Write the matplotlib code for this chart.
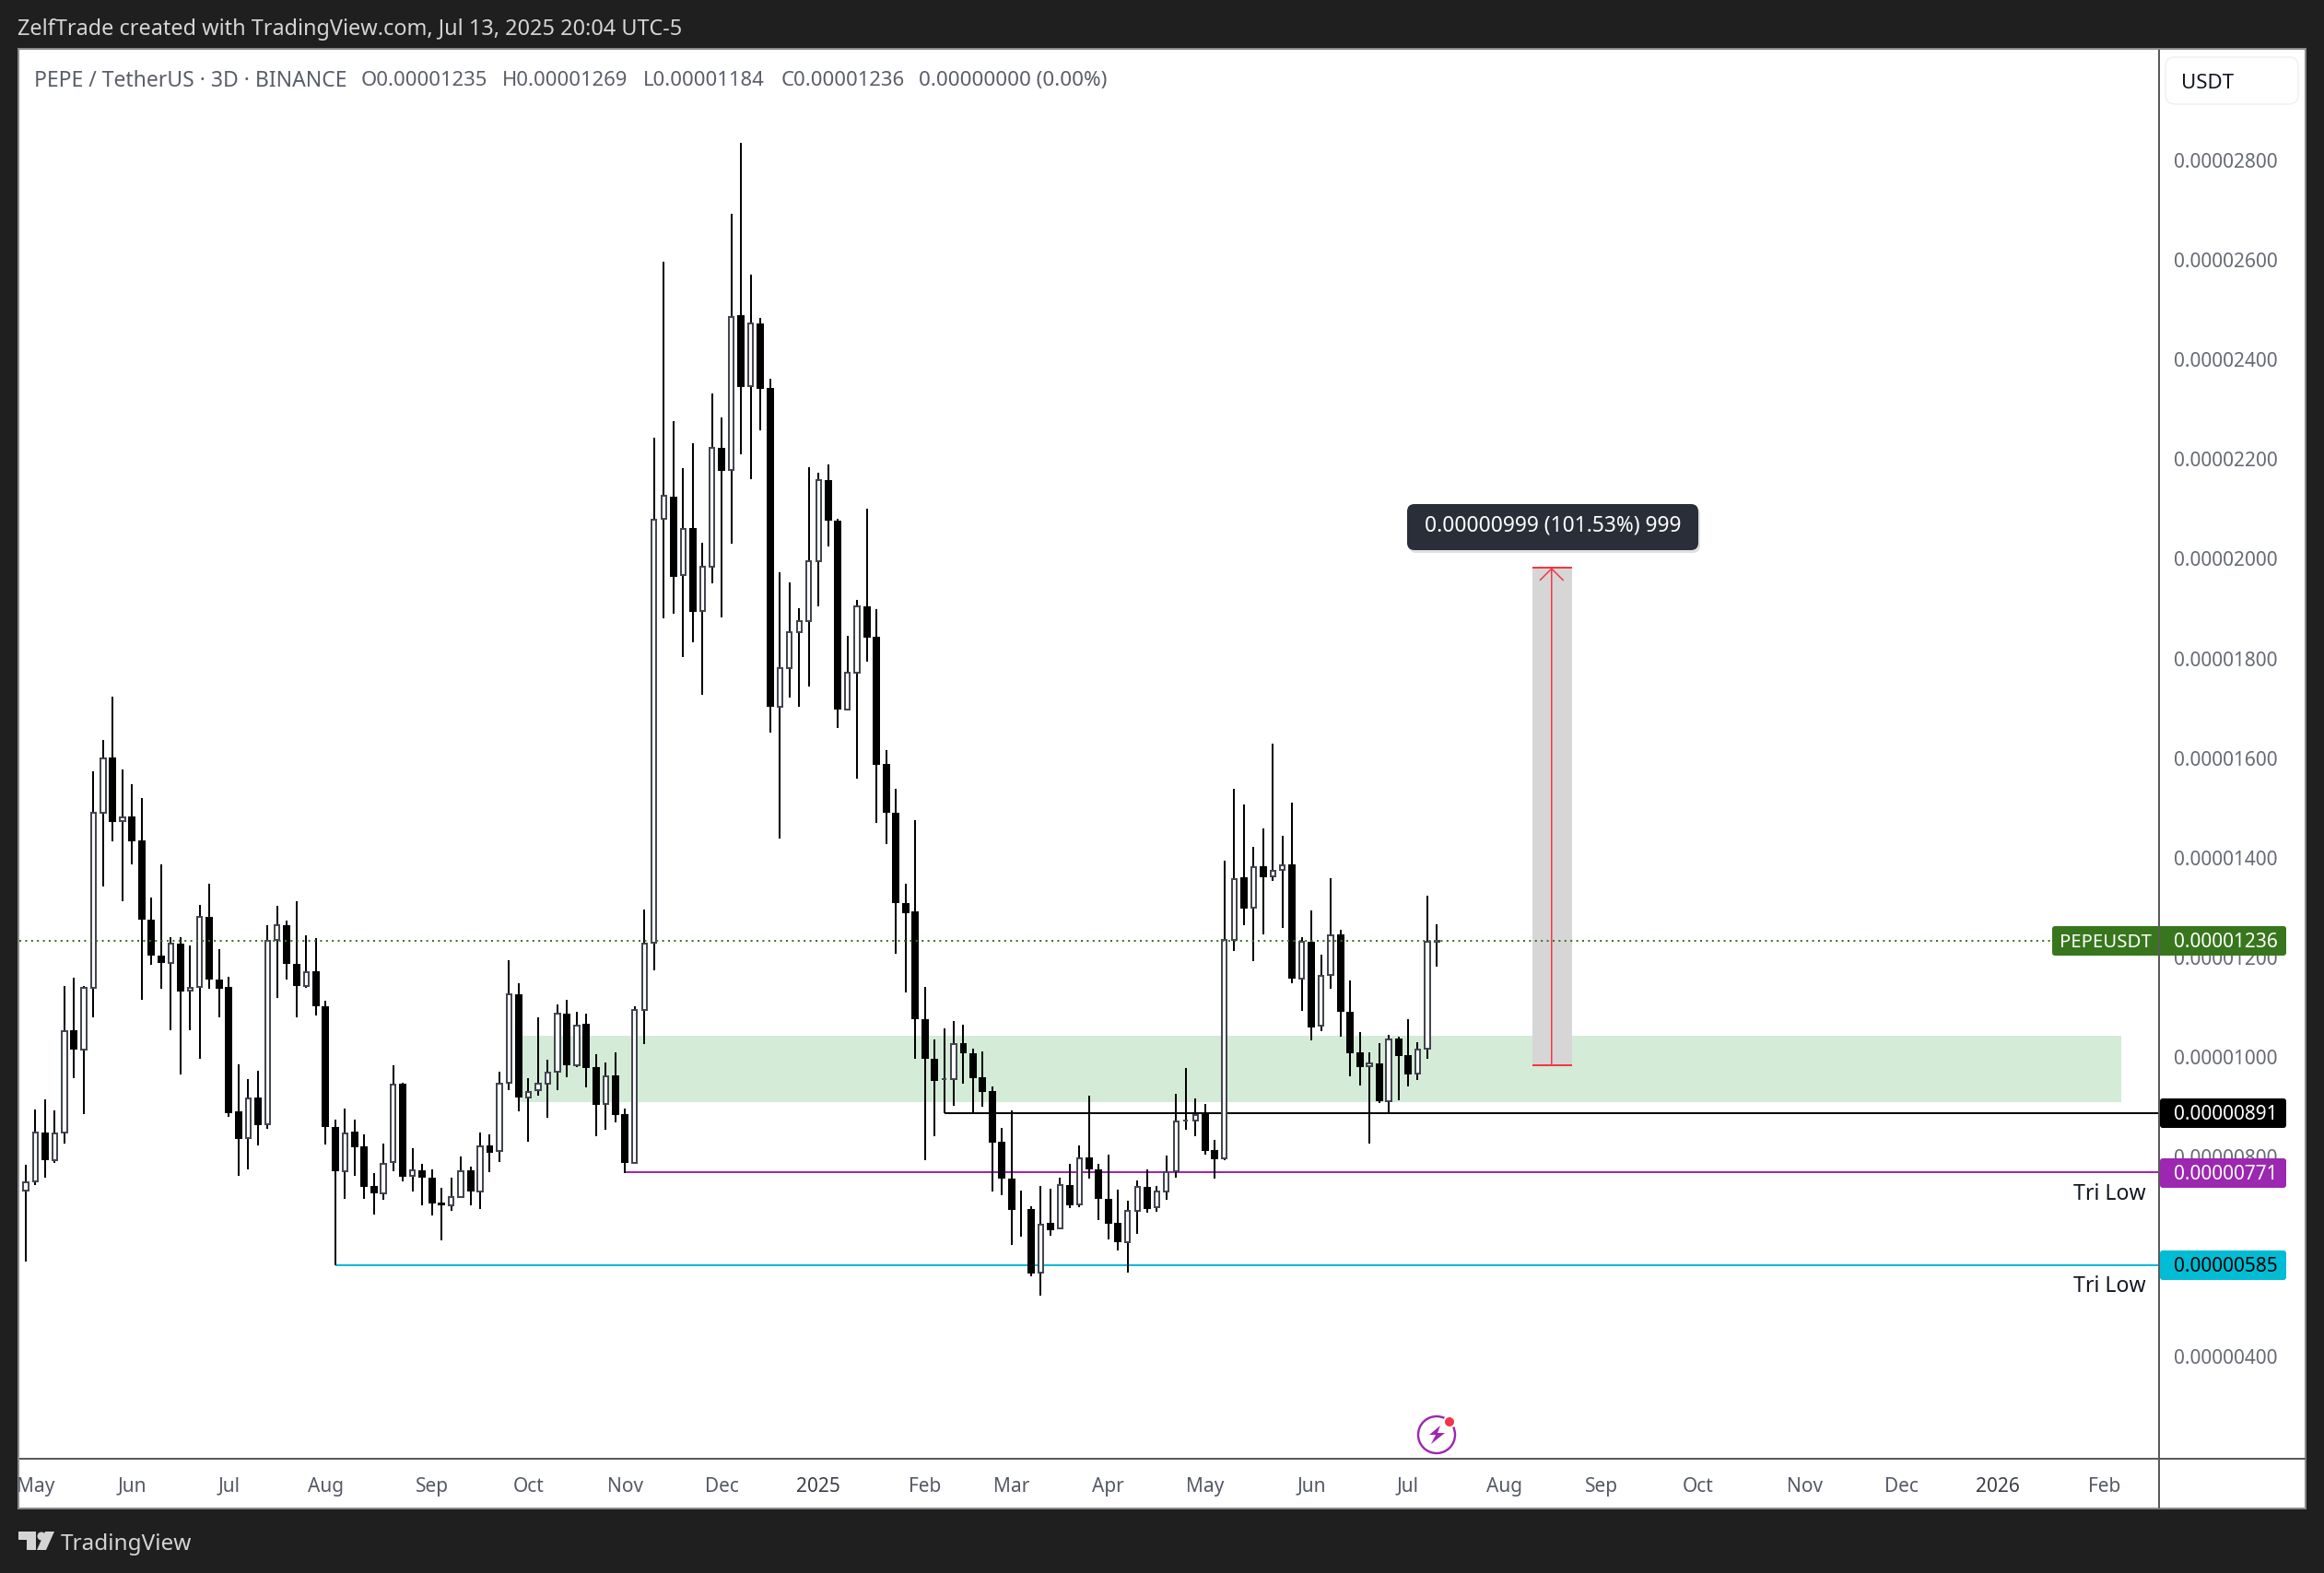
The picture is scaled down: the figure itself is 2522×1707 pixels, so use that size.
import matplotlib
matplotlib.use("Agg")
import matplotlib.pyplot as plt
from matplotlib.patches import Rectangle, FancyBboxPatch, Circle, Polygon, Arc

# prices in units of 0.00000001 USDT, one candle every 3 days
opens = [735,753,851,795,851,1056,1017,1142,1493,1604,
         1477,1485,1437,1278,1206,1191,1230,1136,1143,1285,
         1158,1143,893,840,921,868,1237,1267,1190,1146,
         1175,1104,862,773,853,823,744,729,792,949,
         764,775,760,710,706,722,775,732,825,814,
         951,1129,922,936,950,973,1090,987,1070,983,
         908,966,888,791,1098,1232,2083,2128,1970,2064,
         1898,1987,2225,2181,2491,2349,2476,2345,1705,1784,
         1855,1877,1998,2160,2079,1701,1775,1907,1846,1591,
         1494,1311,1295,1078,1000,958,958,1031,1010,962,
         934,833,759,698,698,570,670,659,746,707,
         801,777,719,670,632,695,743,701,733,773,
         875,875,890,817,799,1237,1363,1302,1385,1365,
         1378,1389,1161,1235,1065,1167,1249,1094,1012,985,
         990,915,1040,1007,969,1019,1235]
highs = [787,897,918,895,1146,1162,1146,1576,1639,1726,
         1580,1551,1522,1323,1389,1244,1243,1227,1308,1351,
         1219,1164,989,958,976,1267,1306,1276,1315,1248,
         1242,1116,878,899,878,848,770,829,986,952,
         820,788,777,740,760,804,783,851,847,973,
         1197,1150,960,1082,997,1108,1118,1094,1090,1008,
         992,1012,899,1104,1298,2246,2599,2279,2185,2235,
         2035,2334,2286,2695,2838,2573,2487,2365,1975,1956,
         1904,2187,2175,2192,2084,1848,1921,2103,1902,1618,
         1541,1351,1478,1143,1038,1060,1076,1068,1019,1014,
         943,860,895,734,704,744,738,760,788,825,
         925,788,807,737,714,756,777,744,805,929,
         981,920,909,836,1397,1541,1510,1424,1462,1631,
         1447,1513,1243,1297,1208,1362,1259,1156,1053,1012,
         1031,1048,1043,1079,1032,1327,1269]
lows = [593,745,761,790,830,961,889,1083,1346,1435,
        1315,1389,1117,1187,1139,1057,968,1056,1000,1139,
        1083,883,764,777,826,859,1122,1158,1083,1141,
        1087,828,585,719,765,719,686,716,773,753,
        733,706,684,634,695,721,706,698,772,793,
        937,893,833,926,880,937,962,983,941,843,
        857,872,770,791,1028,1176,1883,1893,1806,1836,
        1730,1953,1886,2034,2212,2163,2261,1654,1442,1725,
        1705,1747,1907,2027,1664,1701,1562,1796,1473,1431,
        1211,1133,1000,796,844,890,905,950,890,904,
        732,726,626,643,563,524,645,659,700,702,
        759,676,637,615,571,648,691,693,717,761,
        856,844,807,758,795,1216,1268,1196,1249,1357,
        1262,1150,1096,1037,1055,1140,1044,965,946,830,
        911,891,916,944,957,1000,1184]
closes = [751,851,795,850,1055,1017,1141,1494,1603,1475,
          1483,1435,1278,1207,1191,1230,1135,1142,1284,1158,
          1140,891,839,920,867,1236,1268,1189,1146,1174,
          1104,862,773,850,821,743,729,789,948,763,
          775,761,708,706,722,774,732,824,811,950,
          1128,922,933,950,972,1089,987,1066,980,907,
          965,887,791,1098,1231,2081,2130,1967,2063,1897,
          1986,2225,2180,2489,2348,2476,2344,1705,1784,1855,
          1877,1998,2160,2079,1701,1775,1907,1845,1589,1494,
          1311,1292,1078,1000,955,959,1029,1011,961,933,
          831,758,696,697,569,667,655,745,706,800,
          778,719,669,632,695,743,698,732,772,874,
          876,887,815,798,1237,1360,1301,1384,1364,1377,
          1388,1160,1235,1063,1166,1248,1094,1011,983,990,
          914,1039,1005,968,1018,1235,1236]

price_ticks = [400, 800, 1000, 1200, 1400, 1600, 1800, 2000, 2200, 2400, 2600, 2800]
month_positions = [1, 11, 21, 31, 42, 52, 62, 72, 82, 93, 102, 112, 122, 133, 143, 153, 163, 173, 184, 194, 204, 215]
month_labels = ["May", "Jun", "Jul", "Aug", "Sep", "Oct", "Nov", "Dec", "2025", "Feb", "Mar", "Apr",
                "May", "Jun", "Jul", "Aug", "Sep", "Oct", "Nov", "Dec", "2026", "Feb"]

last_price = 1236
zone_low, zone_high = 912, 1045
zone_start, zone_end = 51, 216.8
level_values = [891, 771, 585]
level_starts = [95, 62, 32]
level_colors = ["#000000", "#9c27b0", "#00bcd4"]
measure_low, measure_high = 986, 1985
measure_start, measure_end = 155.9, 160

W, H = 2522, 1708
FONT = "Noto Sans"
plt.rcParams["font.family"] = [FONT, "DejaVu Sans"]
PX = 72 / 100  # points per pixel at dpi 100
DARK = "#1f1f1f"
DY = 1  # vertical nudge of the whole layout, pixels
fig = plt.figure(figsize=(W / 100, H / 100), dpi=100, facecolor=DARK)


def rect(l, t, r, b):
    return [l / W, 1 - b / H, (r - l) / W, (b - t) / H]


# background panel
bg = fig.add_axes([0, 0, 1, 1], zorder=0)
bg.set_xlim(0, W); bg.set_ylim(H - DY, -DY); bg.axis("off")
bg.add_patch(Rectangle((20, 53), 2482, 1584, fc="white", ec="#8a8a8a", lw=2 * PX))

# main chart, pixel position of price axis and time axis
L, R, T, B = 21, 2342, 54 + DY, 1582 + DY
ax = fig.add_axes(rect(L, T, R, B), zorder=1)
ax.set_facecolor("white")
ax.set_xlim(-0.667, 220.6)
ax.set_ylim(198.4, 3024.5)
for s in ax.spines.values():
    s.set_visible(False)

ax.set_yticks(price_ticks)
ax.set_yticklabels([f"{v / 1e8:.8f}" for v in price_ticks], color="#666a73", fontsize=15, ha="left", va="center")
ax.yaxis.tick_right()
ax.tick_params(axis="y", length=0, pad=17 * PX)
ax.set_xticks(month_positions)
ax.set_xticklabels(month_labels, color="#555964", fontsize=15)
ax.tick_params(axis="x", length=0, pad=14.3)
for lab in ax.get_xticklabels():
    if lab.get_text().isdigit():
        lab.set_fontweight("bold")
        lab.set_color("#3a3d45")

# zone, levels and measure tool
ax.add_patch(Rectangle((zone_start, zone_low), zone_end - zone_start, zone_high - zone_low,
                       fc="#d4ebd7", ec="none", zorder=1))
for v, s, c in zip(level_values, level_starts, level_colors):
    ax.plot([s, 221], [v, v], color=c, lw=2 * PX, zorder=2, solid_capstyle="butt")
ax.add_patch(Rectangle((measure_start, measure_low), measure_end - measure_start, measure_high - measure_low,
                       fc="#d6d6d6", ec="none", zorder=2))
RED = "#f23645"
for v in (measure_low, measure_high):
    ax.plot([measure_start, measure_end], [v, v], color=RED, lw=2 * PX, zorder=2.1, solid_capstyle="butt")
mid = (measure_start + measure_end) / 2 - 0.1
ax.annotate("", xy=(mid, measure_high), xytext=(mid, measure_low), zorder=2.2,
            arrowprops=dict(arrowstyle="->,head_length=0.9,head_width=0.9", color=RED, lw=1.5 * PX,
                            shrinkA=0, shrinkB=0, mutation_scale=10))

# candles
for i, (o, h, l, c) in enumerate(zip(opens, highs, lows, closes)):
    ax.plot([i, i], [l, h], color="black", lw=2 * PX, zorder=3, solid_capstyle="butt")
    if c >= o:
        ax.bar(i, c - o, bottom=o, width=0.5, fc="white", ec="#434651", lw=2 * PX, zorder=3.2)
    else:
        ax.bar(i, o - c, bottom=c, width=0.76, fc="black", ec="none", zorder=3.2)
ax.plot([-0.667, 221], [last_price, last_price], color="#38761d", lw=2 * PX, zorder=4,
        linestyle=(0, (1, 2.2)))

# overlay: frame text, price tags, icons
ov = fig.add_axes([0, 0, 1, 1], zorder=2)
ov.set_xlim(0, W); ov.set_ylim(H - DY, -DY); ov.axis("off"); ov.patch.set_alpha(0)
SEP = "#5a5a5a"
ov.plot([2342.5, 2342.5], [54, 1637], color=SEP, lw=2 * PX, solid_capstyle="butt", zorder=5)
ov.plot([21, 2502], [1582.5, 1582.5], color=SEP, lw=2 * PX, solid_capstyle="butt", zorder=5)

ov.text(19, 31.5, "ZelfTrade created with TradingView.com, Jul 13, 2025 20:04 UTC-5",
        color="#d4d4d4", fontsize=16.9, va="center", ha="left")
LEG = "#5a5e69"
legend_parts = ["PEPE / TetherUS · 3D · BINANCE", "O0.00001235", "H0.00001269", "L0.00001184",
                "C0.00001236", "0.00000000 (0.00%)"]
legend_x = [37, 392, 545, 698, 848, 997]
legend_sizes = [16.5, 15.9, 15.9, 15.9, 15.9, 16.1]
for part, x, fs in zip(legend_parts, legend_x, legend_sizes):
    ov.text(x, 86.5, part, color=LEG, fontsize=fs, va="center", ha="left")

ov.add_patch(FancyBboxPatch((2356, 68), 132, 39, boxstyle="round,pad=6,rounding_size=10",
                            fc="white", ec="#f0f0f0", lw=1.5 * PX))
ov.text(2367, 89, "USDT", color="#131722", fontsize=16, va="center", ha="left")


def tag(x0, x1, yc, color, txt, tc="white"):
    ov.add_patch(FancyBboxPatch((x0 + 3, yc - 13), x1 - x0 - 6, 26, boxstyle="round,pad=3,rounding_size=3",
                                fc=color, ec="none", zorder=3))
    ov.text(2359, yc + 1, txt, color=tc, fontsize=15, va="center", ha="left", zorder=4)


tag(2227, 2481, 1021, "#38761d", f"{last_price / 1e8:.8f}")
ov.text(2235, 1022, "PEPEUSDT", color="white", fontsize=14.7, va="center", ha="left", zorder=4)
tag(2344, 2481, 1208, level_colors[0], f"{level_values[0] / 1e8:.8f}")
tag(2344, 2481, 1273, level_colors[1], f"{level_values[1] / 1e8:.8f}")
tag(2344, 2481, 1373, level_colors[2], f"{level_values[2] / 1e8:.8f}", tc="black")
ov.text(2329, 1295, "Tri Low", color="#131722", fontsize=16.6, va="center", ha="right")
ov.text(2329, 1395, "Tri Low", color="#131722", fontsize=16.6, va="center", ha="right")

# measure label
ov.add_patch(FancyBboxPatch((1529, 550), 316, 50, boxstyle="round,pad=0,rounding_size=8",
                            fc="#000000", ec="none", alpha=0.12))
ov.add_patch(FancyBboxPatch((1527, 547), 316, 50, boxstyle="round,pad=0,rounding_size=8",
                            fc="#2a2e39", ec="none"))
ov.text(1685, 570, "0.00000999 (101.53%) 999", color="white", fontsize=16.4, va="center", ha="center")

# lightning icon
ov.add_patch(Arc((1559, 1557), 40, 40, theta1=0, theta2=360, color="#9c27b0", lw=2.4 * PX))
ov.add_patch(Circle((1573, 1543), 7, fc="white", ec="none"))
ov.add_patch(Circle((1573, 1543), 5, fc=RED, ec="none"))
ov.add_patch(Polygon([(1563, 1547), (1551, 1557), (1558, 1557), (1553, 1567), (1568, 1555), (1560, 1555)],
                     fc="#9c27b0", ec="none"))

# TradingView logo
LOGO = "#d4d4d4"
ov.add_patch(Polygon([(20, 1662), (39, 1662), (39, 1682), (29, 1682), (29, 1671), (20, 1671)], fc=LOGO, ec="none"))
ov.add_patch(Circle((45, 1667), 4.5, fc=LOGO, ec="none"))
ov.add_patch(Polygon([(49, 1662), (59, 1662), (50, 1682), (40, 1682)], fc=LOGO, ec="none"))
ov.text(66, 1675, "TradingView", color=LOGO, fontsize=17.5, va="center", ha="left")

fig.savefig("out.png", dpi=100, facecolor=DARK)
